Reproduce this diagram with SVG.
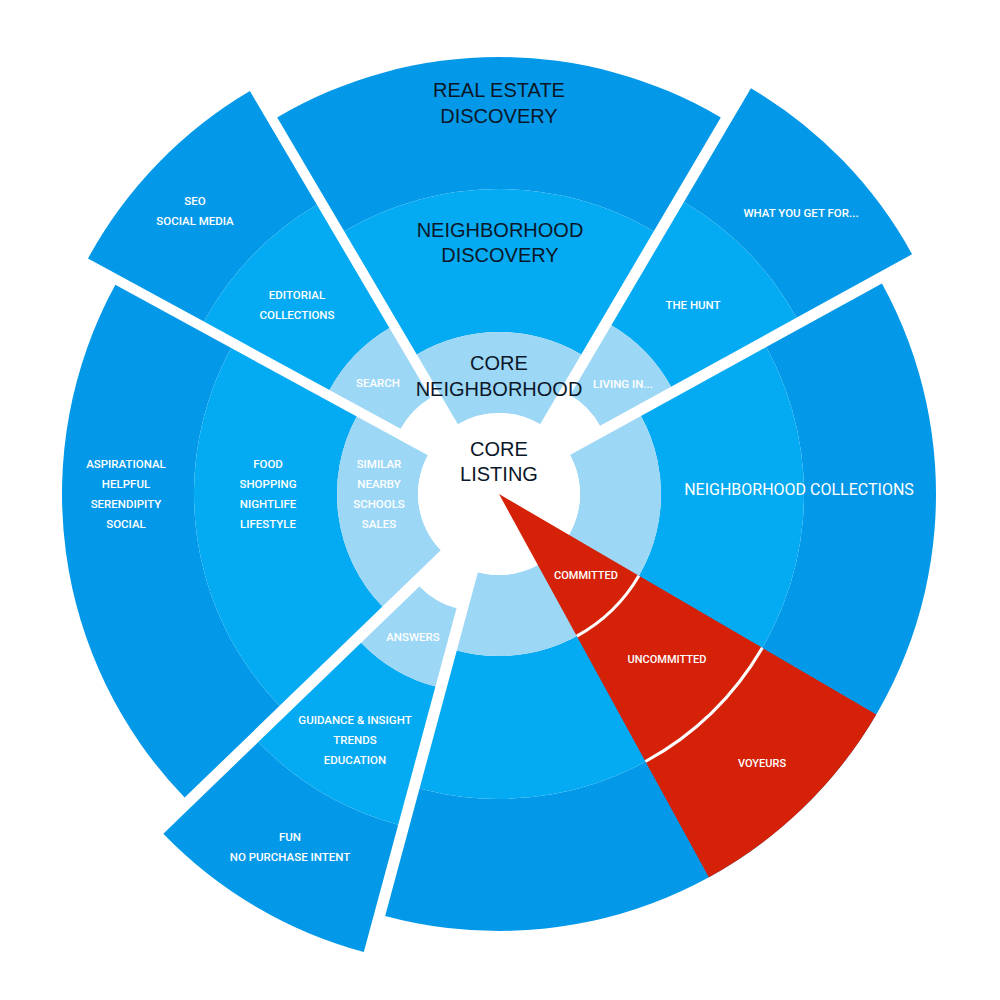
<svg xmlns="http://www.w3.org/2000/svg" xmlns:xlink="http://www.w3.org/1999/xlink" width="1000" height="1000" viewBox="0 0 1000 1000">
<style>
.lt{fill:#9dd7f6}
.md{fill:#04aaf2}
.dk{fill:#0499e8}
.red{fill:#d42107}
.arc{fill:none;stroke:#ffffff;stroke-width:3}
.big{font-family:"Liberation Sans",Arial,sans-serif;font-size:20px;fill:#0b1729;text-anchor:middle}
.sm{font-family:Roboto,"Liberation Sans",Arial,sans-serif;font-weight:500;font-size:11.5px;fill:#ffffff;text-anchor:middle}
.mid{font-family:Roboto,"Liberation Sans",Arial,sans-serif;font-weight:400;font-size:16px;fill:#ffffff;text-anchor:middle}
</style>
<defs>
<g id="narrow">
<path class="dk" d="M437,0 A437,437 0 0 1 374.97,224.42 L261.71,156.63 A305,305 0 0 0 305,0 Z"/>
<path class="md" d="M305,0 A305,305 0 0 1 261.71,156.63 L139.01,83.19 A162,162 0 0 0 162,0 Z"/>
<path class="lt" d="M162,0 A162,162 0 0 1 139.01,83.19 L69.50,41.60 A81,81 0 0 0 81,0 Z"/>
</g>
</defs>
<rect width="1000" height="1000" fill="#ffffff"/>

<g id="seg-what-you-get">
<g transform="translate(529.13,464.75) rotate(300.5)">
<path class="dk" d="M437,0 A437,437 0 0 1 375.76,223.11 L262.25,155.72 A305,305 0 0 0 305,0 Z"/>
<path class="md" d="M305,0 A305,305 0 0 1 262.25,155.72 L139.30,82.71 A162,162 0 0 0 162,0 Z"/>
<path class="lt" d="M162,0 A162,162 0 0 1 139.30,82.71 L69.65,41.35 A81,81 0 0 0 81,0 Z"/>
</g>
<text class="sm" x="801" y="217">WHAT YOU GET FOR...</text>
<text class="sm" x="693" y="309">THE HUNT</text>
<text class="sm" x="623" y="388">LIVING IN...</text>
</g>

<g id="seg-neighborhood-collections">
<g transform="translate(499,494) rotate(331.2)">
<path class="dk" d="M437,0 A437,437 0 0 1 -303.02,314.88 L-211.49,219.77 A305,305 0 0 0 305,0 Z"/>
<path class="md" d="M305,0 A305,305 0 0 1 -211.49,219.77 L-112.33,116.73 A162,162 0 0 0 162,0 Z"/>
<path class="lt" d="M162,0 A162,162 0 0 1 -112.33,116.73 L-56.17,58.36 A81,81 0 0 0 81,0 Z"/>
</g>
<text class="mid" x="799" y="495">NEIGHBORHOOD COLLECTIONS</text>
</g>

<g id="seg-guidance">
<use xlink:href="#narrow" href="#narrow" transform="translate(477.65,530.17) rotate(105.1)"/>
<text class="sm" x="413" y="641">ANSWERS</text>
<text class="sm" x="355" y="724">GUIDANCE &amp; INSIGHT</text>
<text class="sm" x="355" y="744">TRENDS</text>
<text class="sm" x="355" y="764">EDUCATION</text>
<text class="sm" x="290" y="841">FUN</text>
<text class="sm" x="290" y="861">NO PURCHASE INTENT</text>
</g>

<g id="seg-lifestyle">
<g transform="translate(499,494) rotate(136)">
<path class="dk" d="M437,0 A437,437 0 0 1 130.68,417.00 L91.21,291.04 A305,305 0 0 0 305,0 Z"/>
<path class="md" d="M305,0 A305,305 0 0 1 91.21,291.04 L48.44,154.59 A162,162 0 0 0 162,0 Z"/>
<path class="lt" d="M162,0 A162,162 0 0 1 48.44,154.59 L24.22,77.29 A81,81 0 0 0 81,0 Z"/>
</g>
<text class="sm" x="126" y="468">ASPIRATIONAL</text>
<text class="sm" x="126" y="488">HELPFUL</text>
<text class="sm" x="126" y="508">SERENDIPITY</text>
<text class="sm" x="126" y="528">SOCIAL</text>
<text class="sm" x="268" y="468">FOOD</text>
<text class="sm" x="268" y="488">SHOPPING</text>
<text class="sm" x="268" y="508">NIGHTLIFE</text>
<text class="sm" x="268" y="528">LIFESTYLE</text>
<text class="sm" x="379" y="468">SIMILAR</text>
<text class="sm" x="379" y="488">NEARBY</text>
<text class="sm" x="379" y="508">SCHOOLS</text>
<text class="sm" x="379" y="528">SALES</text>
</g>

<g id="seg-seo">
<use xlink:href="#narrow" href="#narrow" transform="translate(471.69,467.58) rotate(208.6)"/>
<text class="sm" x="195" y="205">SEO</text>
<text class="sm" x="195" y="225">SOCIAL MEDIA</text>
<text class="sm" x="297" y="299">EDITORIAL</text>
<text class="sm" x="297" y="319">COLLECTIONS</text>
<text class="sm" x="378" y="387">SEARCH</text>
</g>

<g id="seg-real-estate">
<g transform="translate(499,494) rotate(239.5)">
<path class="dk" d="M437,0 A437,437 0 0 1 211.86,382.21 L147.87,266.76 A305,305 0 0 0 305,0 Z"/>
<path class="md" d="M305,0 A305,305 0 0 1 147.87,266.76 L78.54,141.69 A162,162 0 0 0 162,0 Z"/>
<path class="lt" d="M162,0 A162,162 0 0 1 78.54,141.69 L39.27,70.84 A81,81 0 0 0 81,0 Z"/>
</g>
<text class="big" x="499" y="97">REAL ESTATE</text>
<text class="big" x="499" y="123">DISCOVERY</text>
<text class="big" x="500" y="237">NEIGHBORHOOD</text>
<text class="big" x="500" y="262">DISCOVERY</text>
<text class="big" x="499" y="370">CORE</text>
<text class="big" x="499" y="396">NEIGHBORHOOD</text>
</g>

<g id="core-listing">
<circle cx="499" cy="494" r="81" fill="#ffffff"/>
<text class="big" x="499" y="456">CORE</text>
<text class="big" x="499" y="481">LISTING</text>
</g>

<g id="seg-commitment">
<g transform="translate(499,494) rotate(30.3)">
<path class="red" d="M0,0 L437,0 A437,437 0 0 1 374.58,225.07 Z"/>
<path class="arc" d="M162,0 A162,162 0 0 1 138.86,83.44"/>
<path class="arc" d="M305,0 A305,305 0 0 1 261.44,157.09"/>
</g>
<text class="sm" x="586" y="579" style="font-size:11px">COMMITTED</text>
<text class="sm" x="667" y="663" style="font-size:11px">UNCOMMITTED</text>
<text class="sm" x="762" y="767" style="font-size:11px">VOYEURS</text>
</g>

<g id="connectors"></g>
</svg>
